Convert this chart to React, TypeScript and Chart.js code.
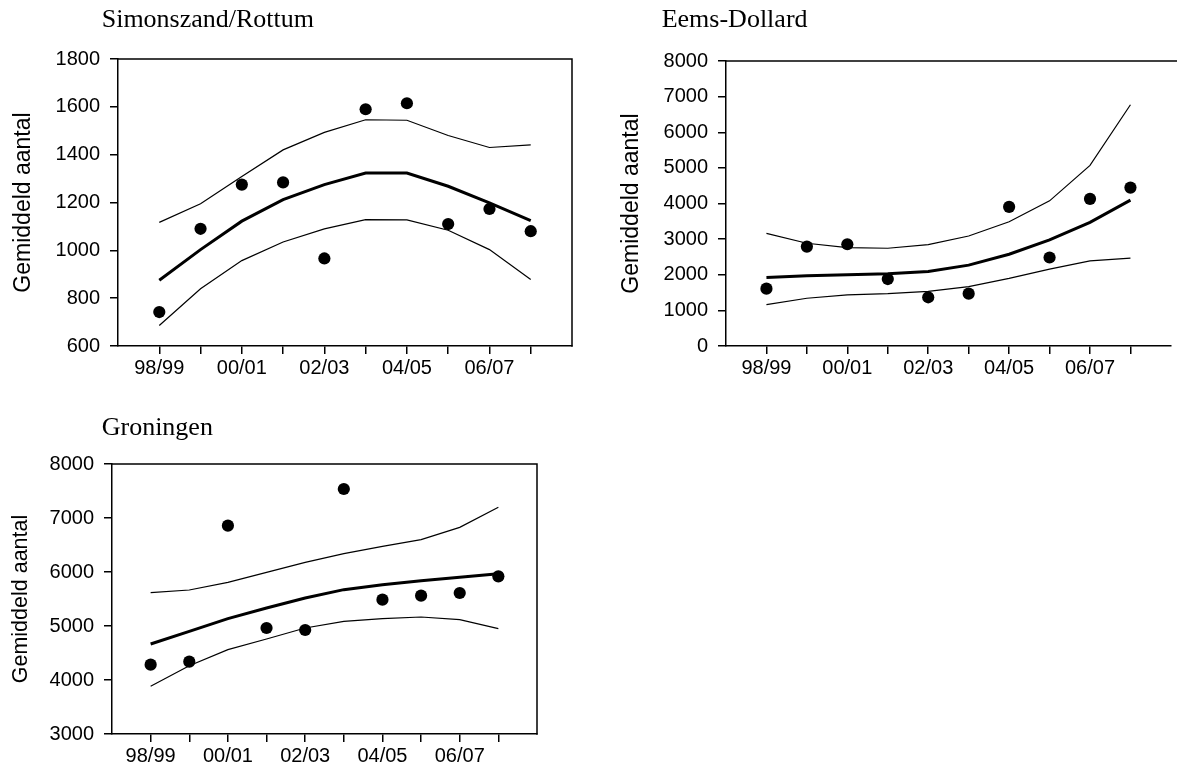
import React, { useEffect, useRef } from 'react';
import { Chart, registerables } from 'chart.js';
Chart.register(...registerables);

const categories = ['98/99', '99/00', '00/01', '01/02', '02/03', '03/04', '04/05', '05/06', '06/07', '07/08'];
const xTickLabels = ['98/99', '', '00/01', '', '02/03', '', '04/05', '', '06/07', ''];
const yTitle = 'Gemiddeld aantal';

const simonTitle = 'Simonszand/Rottum';
const simonPoints = [742, 1090, 1275, 1284, 966, 1590, 1615, 1110, 1173, 1080];
const simonTrend = [875, 1003, 1122, 1212, 1275, 1323, 1323, 1268, 1198, 1124];
const simonUpper = [1117, 1195, 1309, 1420, 1493, 1546, 1544, 1480, 1430, 1441];
const simonLower = [686, 839, 957, 1035, 1090, 1128, 1127, 1084, 1003, 878];
const simonYTicks = [600, 800, 1000, 1200, 1400, 1600, 1800];

const eemsTitle = 'Eems-Dollard';
const eemsPoints = [1609, 2791, 2856, 1879, 1367, 1470, 3907, 2484, 4130, 4447];
const eemsTrend = [1926, 1972, 2000, 2028, 2093, 2270, 2577, 2977, 3470, 4093];
const eemsUpper = [3163, 2884, 2763, 2744, 2847, 3088, 3488, 4074, 5070, 6772];
const eemsLower = [1163, 1340, 1433, 1470, 1535, 1665, 1898, 2158, 2391, 2465];
const eemsYTicks = [0, 1000, 2000, 3000, 4000, 5000, 6000, 7000, 8000];

const groTitle = 'Groningen';
const groPoints = [4284, 4340, 6858, 4963, 4926, 7537, 5488, 5562, 5611, 5920];
const groTrend = [4667, 4901, 5136, 5333, 5519, 5673, 5765, 5840, 5901, 5969];
const groUpper = [5617, 5667, 5809, 5994, 6179, 6340, 6475, 6599, 6827, 7198];
const groLower = [3883, 4265, 4562, 4759, 4963, 5086, 5136, 5167, 5117, 4951];
const groYTicks = [3000, 4000, 5000, 6000, 7000, 8000];

const SANS = '"Liberation Sans", Arial, sans-serif';
const SERIF = '"Liberation Serif", "Times New Roman", serif';

const decorPlugin = {
  id: 'decor',
  afterDraw(chart: any, _args: any, opts: any) {
    const { ctx, chartArea: a } = chart;
    ctx.save();
    ctx.strokeStyle = '#000';
    ctx.lineWidth = 1.5;
    ctx.lineCap = 'square';
    ctx.beginPath();
    ctx.moveTo(a.left, a.top);
    ctx.lineTo(opts.rightBorder ? a.right : chart.width, a.top);
    if (opts.rightBorder) ctx.lineTo(a.right, a.bottom);
    ctx.stroke();
    ctx.fillStyle = '#000';
    ctx.font = `${opts.yTitleSize}px ${SANS}`;
    ctx.translate(a.left + opts.yTitleOffset, (a.top + a.bottom) / 2);
    ctx.rotate(-Math.PI / 2);
    ctx.textAlign = 'center';
    ctx.textBaseline = 'alphabetic';
    ctx.fillText(opts.yTitle, 0, 0);
    ctx.restore();
    ctx.save();
    ctx.fillStyle = '#000';
    ctx.font = `26px ${SERIF}`;
    ctx.textAlign = 'left';
    ctx.textBaseline = 'alphabetic';
    ctx.fillText(opts.title, opts.titleX, opts.titleY);
    ctx.restore();
  },
};

type Spec = {
  left: number; top: number; width: number; height: number;
  area: { left: number; top: number; right: number; bottom: number };
  title: string; titleX: number; titleY: number;
  yTitleSize: number; yTitleOffset: number; rightBorder: boolean;
  points: number[]; trend: number[]; upper: number[]; lower: number[]; yTicks: number[];
};

function toXY(arr: number[]) {
  return categories.map((_, i) => ({ x: i, y: arr[i] }));
}

function Panel({ spec }: { spec: Spec }) {
  const ref = useRef<HTMLCanvasElement>(null);
  useEffect(() => {
    const c = spec;
    const xH = 45;
    const yW = c.area.left - c.left;
    const lineDs = (arr: number[], w: number) => ({
      data: toXY(arr),
      borderColor: '#000',
      borderWidth: w,
      pointRadius: 0,
      tension: 0,
      fill: false,
      order: 1,
    });
    const chart = new Chart(ref.current!, {
      type: 'line',
      data: {
        datasets: [
          {
            data: toXY(c.points),
            showLine: false,
            pointRadius: 6.1,
            pointBorderWidth: 0,
            pointBackgroundColor: '#000',
            borderColor: '#000',
            order: 0,
          } as any,
          lineDs(c.upper, 1.2),
          lineDs(c.trend, 3),
          lineDs(c.lower, 1.2),
        ],
      },
      options: {
        responsive: false,
        animation: false,
        events: [],
        layout: {
          padding: {
            left: 0,
            top: c.area.top - c.top,
            right: c.left + c.width - c.area.right,
            bottom: c.top + c.height - c.area.bottom - xH,
          },
        },
        plugins: {
          legend: { display: false },
          tooltip: { enabled: false },
          decor: {
            title: c.title, titleX: c.titleX, titleY: c.titleY,
            yTitle, yTitleSize: c.yTitleSize, yTitleOffset: c.yTitleOffset,
            rightBorder: c.rightBorder,
          },
        } as any,
        scales: {
          x: {
            type: 'linear',
            min: -1,
            max: categories.length,
            afterBuildTicks: (s: any) => { s.ticks = categories.map((_, i) => ({ value: i })); },
            afterFit: (s: any) => { s.height = xH; },
            grid: { drawOnChartArea: false, drawTicks: true, tickLength: 8, color: '#000', lineWidth: 1.5 },
            border: { display: true, color: '#000', width: 1.5 },
            ticks: {
              autoSkip: false, maxRotation: 0, minRotation: 0, padding: 2,
              color: '#000', font: { family: SANS, size: 20 },
              callback: (v: any) => xTickLabels[Math.round(Number(v))] ?? '',
            },
          },
          y: {
            type: 'linear',
            min: c.yTicks[0],
            max: c.yTicks[c.yTicks.length - 1],
            afterBuildTicks: (s: any) => { s.ticks = c.yTicks.map((v) => ({ value: v })); },
            afterFit: (s: any) => { s.width = yW; },
            grid: { drawOnChartArea: false, drawTicks: true, tickLength: 8, color: '#000', lineWidth: 1.5 },
            border: { display: true, color: '#000', width: 1.5 },
            ticks: {
              padding: 10, color: '#000', font: { family: SANS, size: 20 },
              callback: (v: any) => String(v),
            },
          },
        },
      },
      plugins: [decorPlugin as any],
    });
    return () => chart.destroy();
  }, [spec]);
  return (
    <canvas
      ref={ref}
      width={spec.width}
      height={spec.height}
      style={{ position: 'absolute', left: spec.left, top: spec.top, width: spec.width, height: spec.height }}
    />
  );
}

const specs: Spec[] = [
  {
    left: 0, top: 0, width: 590, height: 400,
    area: { left: 118, top: 59, right: 572, bottom: 346 },
    title: simonTitle, titleX: 101.7, titleY: 27,
    yTitleSize: 23, yTitleOffset: -88.5, rightBorder: true,
    points: simonPoints, trend: simonTrend, upper: simonUpper, lower: simonLower, yTicks: simonYTicks,
  },
  {
    left: 600, top: 0, width: 577, height: 400,
    area: { left: 726, top: 61, right: 1177, bottom: 346 },
    title: eemsTitle, titleX: 61.7, titleY: 26.7,
    yTitleSize: 23, yTitleOffset: -87.7, rightBorder: false,
    points: eemsPoints, trend: eemsTrend, upper: eemsUpper, lower: eemsLower, yTicks: eemsYTicks,
  },
  {
    left: 0, top: 400, width: 590, height: 371,
    area: { left: 112, top: 464, right: 537, bottom: 734 },
    title: groTitle, titleX: 101.7, titleY: 35,
    yTitleSize: 21.5, yTitleOffset: -84.7, rightBorder: true,
    points: groPoints, trend: groTrend, upper: groUpper, lower: groLower, yTicks: groYTicks,
  },
];

export default function App() {
  return (
    <div style={{ position: 'fixed', left: 0, top: 0, width: 1177, height: 771, background: '#fff', overflow: 'hidden' }}>
      {specs.map((s, i) => <Panel key={i} spec={s} />)}
    </div>
  );
}
